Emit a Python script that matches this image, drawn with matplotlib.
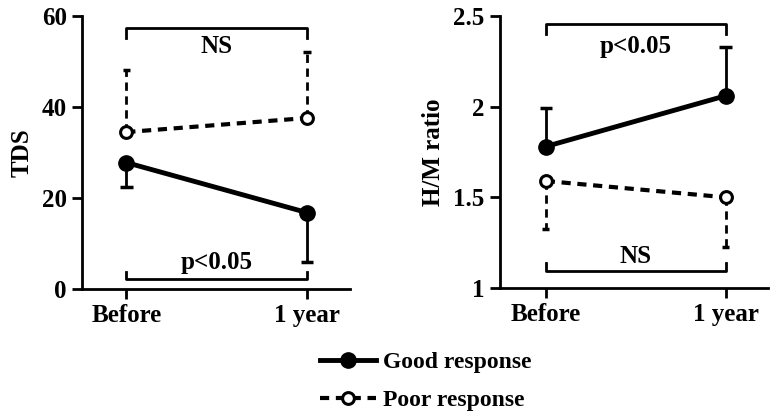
import matplotlib.pyplot as plt

plt.rcParams['font.family'] = ['Liberation Serif', 'DejaVu Serif']
plt.rcParams['font.weight'] = 'bold'

timepoints = ["Before", "1 year"]
x = [0, 1]

# TDS panel
tds_good = [27.8, 16.8]
tds_good_low = [22.4, 6.0]
tds_poor = [34.5, 37.6]
tds_poor_high = [48.2, 52.2]

# H/M ratio panel
hm_good = [1.78, 2.06]
hm_good_high = [1.99, 2.33]
hm_poor = [1.59, 1.50]
hm_poor_low = [1.325, 1.225]

fig = plt.figure(figsize=(7.7, 4.16), dpi=100)
ax1 = fig.add_axes([0.1065, 0.3053, 0.348, 0.656])
ax2 = fig.add_axes([0.649, 0.3077, 0.348, 0.654])


def style(ax, ylim, yticks, yticklabels, ylabel):
    ax.set_xlim(-0.245, 1.238)
    ax.set_ylim(*ylim)
    ax.set_yticks(yticks)
    ax.set_yticklabels(yticklabels)
    ax.set_xticks(x)
    ax.set_xticklabels(timepoints)
    for s in ['top', 'right']:
        ax.spines[s].set_visible(False)
    for s in ['left', 'bottom']:
        ax.spines[s].set_linewidth(2)
    ax.tick_params(width=2, length=7, labelsize=18, pad=4)
    ax.set_ylabel(ylabel, fontsize=18, fontweight='bold', labelpad=6)


def errs(ax, y_from, y_to, ls, cw):
    ax.vlines(x, y_from, y_to, colors='black', linestyles=ls, linewidth=2, zorder=1)
    ax.hlines(y_to, [i - cw for i in x], [i + cw for i in x], colors='black', linewidth=2.5, zorder=1)


def bracket(ax, y, tip, label, ty):
    ax.plot([x[0], x[0], x[1], x[1]], [tip, y, y, tip], color='black', lw=2, clip_on=False)
    ax.text(0.5, ty, label, ha='center', va='center', fontsize=18, fontweight='bold')


# left panel
errs(ax1, tds_good, tds_good_low, 'solid', 0.035)
errs(ax1, tds_poor, tds_poor_high, (0, (3, 2)), 0.02)
good_line, = ax1.plot(x, tds_good, '-', color='black', lw=3.5, marker='o', ms=11, mfc='black', mec='black', zorder=3)
poor_line, = ax1.plot(x, tds_poor, color='black', lw=3, ls=(0, (2.2, 1.6)), marker='o', ms=8.5, mfc='white', mec='black', mew=2.2, zorder=3)
bracket(ax1, 57.4, 55.2, "NS", 53.4)
bracket(ax1, 2.2, 3.8, "p<0.05", 5.8)
style(ax1, (0, 60), [0, 20, 40, 60], ["0", "20", "40", "60"], "TDS")

# right panel
errs(ax2, hm_good, hm_good_high, 'solid', 0.035)
errs(ax2, hm_poor, hm_poor_low, (0, (3, 2)), 0.02)
ax2.plot(x, hm_good, '-', color='black', lw=3.5, marker='o', ms=11, mfc='black', mec='black', zorder=3)
ax2.plot(x, hm_poor, color='black', lw=3, ls=(0, (2.2, 1.6)), marker='o', ms=8.5, mfc='white', mec='black', mew=2.2, zorder=3)
bracket(ax2, 2.456, 2.40, "p<0.05", 2.33)
bracket(ax2, 1.094, 1.14, "NS", 1.175)
style(ax2, (1, 2.5), [1, 1.5, 2, 2.5], ["1", "1.5", "2", "2.5"], "H/M ratio")
ax2.set_xlim(-0.256, 1.233)

fig.legend([good_line, poor_line], ["Good response", "Poor response"],
           loc='center', bbox_to_anchor=(0.553, 0.083), frameon=False,
           handlelength=2.4, handletextpad=0.3, labelspacing=0.7,
           prop={'weight': 'bold', 'size': 17})

fig.savefig("out.png", dpi=100)
